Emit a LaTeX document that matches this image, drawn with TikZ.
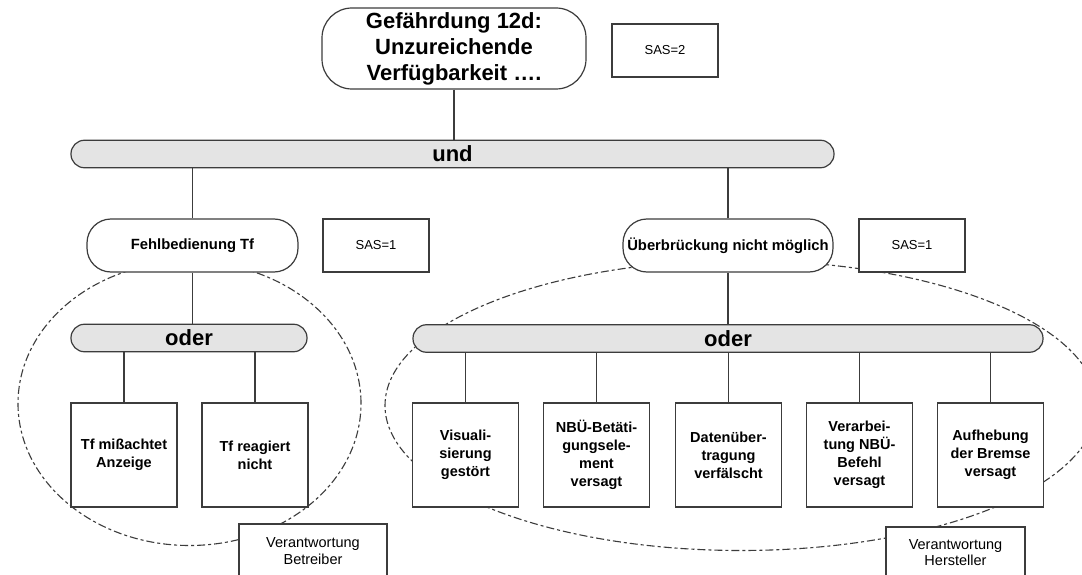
\documentclass[tikz,border=0pt]{standalone}
\usepackage{fontspec}
\setmainfont{Liberation Sans}
\definecolor{linegray}{RGB}{60,60,60}
\definecolor{dashgray}{RGB}{60,60,60}
\definecolor{barfill}{RGB}{228,228,228}
\newcommand\ftTitle{\fontsize{22}{26}\selectfont\bfseries}
\newcommand\ftGate{\fontsize{22}{26}\selectfont\bfseries}
\newcommand\ftEvent{\fontsize{14.5}{18}\selectfont\bfseries}
\newcommand\ftMid{\fontsize{14.8}{17}\selectfont\bfseries}
\newcommand\ftSas{\fontsize{13}{15}\selectfont}
\newcommand\ftResp{\fontsize{14.5}{16.5}\selectfont}
\begin{document}
\begin{tikzpicture}[x=1pt,y=-1pt,
  outline/.style={draw=linegray,line width=1.2pt},
  topbox/.style={outline,fill=white,rounded corners=30pt,inner sep=0pt,align=center,font=\ftTitle},
  midbox/.style={outline,fill=white,rounded corners=24pt,inner sep=0pt,align=center,font=\ftMid,
    minimum width=210pt,minimum height=53pt},
  sasbox/.style={outline,fill=white,inner sep=0pt,align=center,font=\ftSas,
    minimum width=106pt,minimum height=53pt},
  gatebar/.style={outline,fill=barfill,rounded corners=13.5pt,inner sep=0pt,font=\ftGate,
    minimum height=27.5pt},
  eventbox/.style={outline,fill=white,inner sep=0pt,align=center,font=\ftEvent,
    minimum width=106pt,minimum height=104pt},
  respbox/.style={outline,fill=white,inner sep=0pt,align=center,font=\ftResp,minimum height=54pt},
  link/.style={draw=linegray,line width=1.2pt},
  group/.style={draw=dashgray,line width=1.1pt,dash pattern=on 8pt off 3pt on 3pt off 3pt}]
\clip (0,0) rectangle (1082,575);
\fill[white] (0,0) rectangle (1082,575);

% responsibility groups (drawn first, partly covered by the boxes)
\draw[group] (189.5,403.5) ellipse [x radius=171.5pt, y radius=142pt];
\draw[group] (741,405.5) ellipse [x radius=356pt, y radius=145pt];

% top event
\node[topbox,minimum width=264pt,minimum height=81pt] (top) at (454,48.5)
  {Gefährdung 12d:\\Unzureichende\\Verfügbarkeit ….};
\node[sasbox] (sas2) at (665,50.5) {SAS=2};

% AND gate
\node[gatebar,minimum width=763pt] (und) at (452.5,154) {und};

% intermediate events
\node[midbox,minimum width=211pt] (fehl) at (192.5,245.5) {Fehlbedienung Tf};
\node[sasbox] (sasL) at (376,245.5) {SAS=1};
\node[midbox] (ueb) at (728,245.5) {Überbrückung nicht möglich};
\node[sasbox] (sasR) at (912,245.5) {SAS=1};

% OR gates
\node[gatebar,minimum width=236pt] (oderL) at (189,338) {oder};
\node[gatebar,minimum width=630pt] (oderR) at (728,338.5) {oder};

% basic events
\node[eventbox] (e1) at (124,455) {Tf mißachtet\\Anzeige};
\node[eventbox] (e2) at (255,455) {Tf reagiert\\nicht};
\node[eventbox] (e3) at (465.5,455) {Visuali-\\sierung\\gestört};
\node[eventbox] (e4) at (596.5,455) {NBÜ-Betäti-\\gungsele-\\ment\\versagt};
\node[eventbox] (e5) at (728.5,455) {Datenüber-\\tragung\\verfälscht};
\node[eventbox] (e6) at (859.5,455) {Verarbei-\\tung NBÜ-\\Befehl\\versagt};
\node[eventbox] (e7) at (990.5,455) {Aufhebung\\der Bremse\\versagt};

% responsibility labels
\node[respbox,minimum width=148pt] (betr) at (313,551) {Verantwortung\\Betreiber};
\node[respbox,minimum width=139pt,minimum height=51pt] (herst) at (955.5,552.5) {Verantwortung\\Hersteller};

% connectors
\draw[link] (top.south) -- (top.south |- und.north);
\draw[link] (fehl.north) -- (fehl.north |- und.south);
\draw[link] (ueb.north) -- (ueb.north |- und.south);
\draw[link] (fehl.south) -- (fehl.south |- oderL.north);
\draw[link] (ueb.south) -- (ueb.south |- oderR.north);
\foreach \e in {e1,e2}
  \draw[link] (\e.north) -- (\e.north |- oderL.south);
\foreach \e in {e3,e4,e5,e6,e7}
  \draw[link] (\e.north) -- (\e.north |- oderR.south);
\end{tikzpicture}
\end{document}
